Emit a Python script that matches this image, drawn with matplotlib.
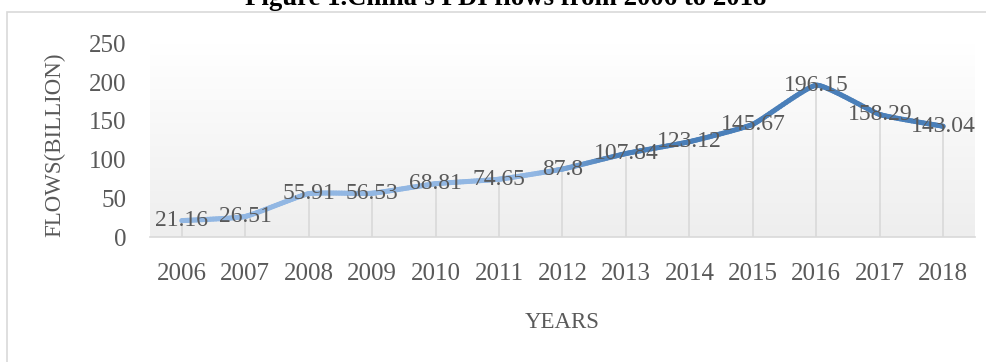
import numpy as np
import matplotlib
matplotlib.use("Agg")
import matplotlib.pyplot as plt
from matplotlib.collections import LineCollection
from matplotlib.patches import Rectangle
from matplotlib.colors import to_rgb

years = ["2006", "2007", "2008", "2009", "2010", "2011", "2012",
         "2013", "2014", "2015", "2016", "2017", "2018"]
flows = [21.16, 26.51, 55.91, 56.53, 68.81, 74.65, 87.8,
         107.84, 123.12, 145.67, 196.15, 158.29, 143.04]
labels = ["21.16", "26.51", "55.91", "56.53", "68.81", "74.65", "87.8",
          "107.84", "123.12", "145.67", "196.15", "158.29", "143.04"]
yticks = [0, 50, 100, 150, 200, 250]

plt.rcParams['font.family'] = ['Liberation Serif', 'DejaVu Serif']
W, H = 987, 362
fig = plt.figure(figsize=(W / 100, H / 100), dpi=100)

# chart border (extends beyond right/bottom edges)
fig.patches.append(Rectangle((7 / W, -0.1), 1.2, (H - 12) / H + 0.1,
                             transform=fig.transFigure, fill=False,
                             edgecolor='#d9d9d9', lw=1.2))

left, right, bottom, top = 150, 975, 237, 43.5
ax = fig.add_axes([left / W, (H - bottom) / H, (right - left) / W, (bottom - top) / H])
x = np.arange(len(years))
ax.set_xlim(-0.5, len(years) - 0.5)
ax.set_ylim(0, 250)

# gradient background
grad = np.linspace(1, 0, 256).reshape(-1, 1)
c_top = np.array(to_rgb('#ffffff'))
c_bot = np.array(to_rgb('#eeeeee'))
img = c_bot[None, None, :] * (1 - grad[..., None]) + c_top[None, None, :] * grad[..., None]
ax.imshow(img, extent=[-0.5, len(years) - 0.5, 0, 250], aspect='auto', zorder=0,
          origin='upper')

# drop lines
ax.vlines(x, 0, flows, color='#d9d9d9', lw=1.2, zorder=1)

# lightly smoothed line
P = np.column_stack([x, flows]).astype(float)
pts = []
n = len(P)
k = 1 / 14
for i in range(n - 1):
    p0 = P[i - 1] if i > 0 else P[i]
    p1 = P[i]
    p2 = P[i + 1]
    p3 = P[i + 2] if i + 2 < n else P[i + 1]
    c1 = p1 + (p2 - p0) * k
    c2 = p2 - (p3 - p1) * k
    t = np.linspace(0, 1, 30)[:, None]
    seg = (1 - t) ** 3 * p1 + 3 * (1 - t) ** 2 * t * c1 + 3 * (1 - t) * t ** 2 * c2 + t ** 3 * p2
    pts.append(seg if i == 0 else seg[1:])
curve = np.vstack(pts)
segs = np.stack([curve[:-1], curve[1:]], axis=1)
ca = np.array(to_rgb('#92b7e3'))
cb = np.array(to_rgb('#4a7fb9'))
mid = (curve[:-1, 0] + curve[1:, 0]) / 2
f = np.clip((mid - 5.6) / 1.3, 0, 1)[:, None]
cols = ca * (1 - f) + cb * f
lc = LineCollection(segs, colors=cols, linewidths=3.6, capstyle='round',
                    joinstyle='round', zorder=3)
ax.add_collection(lc)

# data labels
for xi, v, lab in zip(x, flows, labels):
    ax.text(xi, v, lab, ha='center', va='center', fontsize=17, color='#595959',
            zorder=4, clip_on=False)

ax.set_xticks(x)
ax.set_xticklabels(years)
ax.set_yticks(yticks)
ax.tick_params(axis='both', length=0, labelsize=18, labelcolor='#595959')
ax.tick_params(axis='x', pad=19)
ax.tick_params(axis='y', pad=17)
for s in ['top', 'right', 'left']:
    ax.spines[s].set_visible(False)
ax.spines['bottom'].set_color('#d9d9d9')
ax.spines['bottom'].set_linewidth(1.2)

fig.text(55 / W, 1 - 145 / H, "FLOWS(BILLION)", rotation=90, ha='center', va='center',
         fontsize=16.5, color='#595959')
fig.text(562 / W, 1 - 322 / H, "YEARS", ha='center', va='center', fontsize=16.5,
         color='#595959')
fig.text(506 / W, 1 - 5 / H, "Figure 1.China's FDI flows from 2006 to 2018",
         ha='center', va='baseline', fontsize=19.3, fontweight='bold', color='black')

fig.savefig("out.png", dpi=100)
